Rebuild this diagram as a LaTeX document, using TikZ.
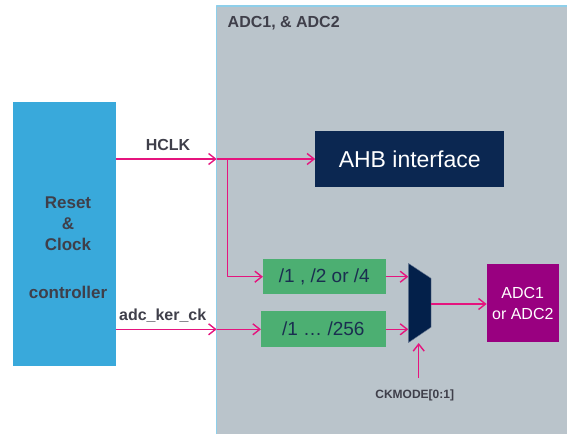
\documentclass[tikz,border=0pt]{standalone}
\usepackage{fontspec}
\setmainfont{Liberation Sans}
\usetikzlibrary{arrows.meta}
\definecolor{bgray}{HTML}{BAC4CB}
\definecolor{edgeblue}{HTML}{8ECFEA}
\definecolor{rccblue}{HTML}{39A9DB}
\definecolor{navy}{HTML}{0B2751}
\definecolor{muxnavy}{HTML}{03204A}
\definecolor{divgreen}{HTML}{4CAF72}
\definecolor{adcpurple}{HTML}{990080}
\definecolor{sigpink}{HTML}{E5147E}
\definecolor{txtgray}{HTML}{3F3F4A}
\definecolor{divtxt}{HTML}{1A2E50}
\begin{document}
\begin{tikzpicture}[x=1pt,y=-1pt,line join=round,
	sig/.style={draw=sigpink,line width=1.4pt,-{Straight Barb[length=7pt,width=11pt]}},
	lbl/.style={text=txtgray,font=\bfseries\fontsize{16}{19}\selectfont,inner sep=0pt},
	blk/.style={inner sep=0pt,outer sep=0pt},
	divbox/.style={blk,fill=divgreen,text=divtxt,font=\fontsize{19}{22}\selectfont}]
	\useasboundingbox (0,0) rectangle (567,434);
	%Khung ADC
	\fill[bgray] (216.7,6) rectangle (567,434);
	\draw[edgeblue,line width=1.2pt] (216.7,434)--(216.7,6)--(567,6);
	\node[lbl,anchor=base west] (title) at (227.5,27) {ADC1, \& ADC2};
	%Khoi RCC
	\node[blk,fill=rccblue,minimum width=103pt,minimum height=264pt] (rcc) at (64.5,234) {};
	\node[lbl,font=\bfseries\fontsize{17}{21}\selectfont,align=center] (rcclbl) at (68,248) {Reset\\\&\\Clock\\[27pt]controller};
	%Cac khoi ben trong
	\node[blk,fill=navy,text=white,font=\fontsize{23}{27}\selectfont,minimum width=189pt,minimum height=56pt] (ahb) at (409.7,159.2) {AHB interface};
	\node[divbox,minimum width=122.7pt,minimum height=35.3pt] (divA) at (324.3,276.7) {/1 , /2 or /4};
	\node[divbox,minimum width=124.7pt,minimum height=35.7pt] (divB) at (323.3,328.9) {/1 \dots\ /256};
	\node[blk,fill=adcpurple,text=white,font=\fontsize{16}{21}\selectfont,align=center,minimum width=72.3pt,minimum height=77.4pt] (adc) at (522.8,303) {ADC1\\or ADC2};
	%Bo chon (mux)
	\fill[muxnavy,draw=navy!60!white,line width=0.4pt] (408.3,263.3)--(431,278.3)--(431,327.3)--(408.3,342.7)--cycle;
	\coordinate (muxa) at (408.3,276.7);
	\coordinate (muxb) at (408.3,329.3);
	\coordinate (muxo) at (431,304);
	\coordinate (muxs) at (418.7,343);
	%Tin hieu clock
	\coordinate (hclkin) at (216.7,159);
	\coordinate (kerin) at (216.7,329.3);
	\coordinate (split) at (227.7,159);
	\coordinate (cksrc) at (418.7,378);
	\node[lbl,anchor=base] (hclk) at (168,150) {HCLK};
	\node[lbl,anchor=base] (kerck) at (162.7,320) {adc\_ker\_ck};
	\node[lbl,font=\bfseries\fontsize{12}{14}\selectfont,anchor=base] (ckmode) at (414.7,398) {CKMODE[0:1]};
	\draw[sig] (rcc.east|-hclkin)--(hclkin);
	\draw[sig] (hclkin)--(ahb.west|-hclkin);
	\draw[sig] (split)|-(divA.west);
	\draw[sig] (rcc.east|-kerin)--(kerin);
	\draw[sig] (kerin)--(divB.west|-kerin);
	\foreach \d/\m in {divA/muxa,divB/muxb} \draw[sig] (\d.east|-\m)--(\m);
	\draw[sig] (muxo)--(adc.west|-muxo);
	\draw[sig] (cksrc)--(muxs);
\end{tikzpicture}
\end{document}
